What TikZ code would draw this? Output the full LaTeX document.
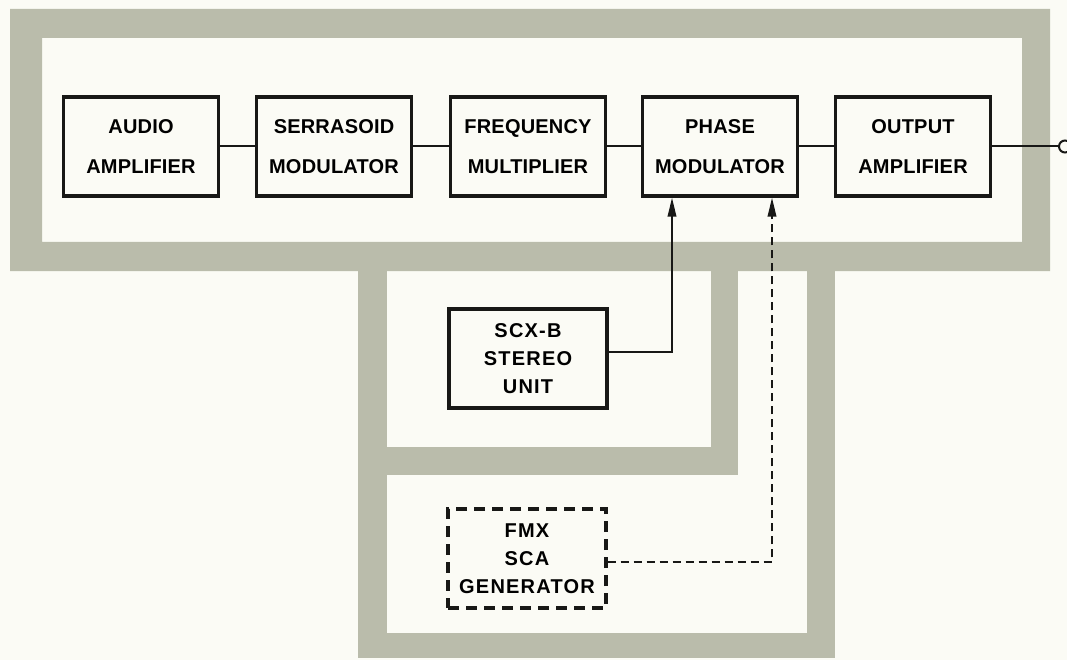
\documentclass[tikz,border=0pt]{standalone}
\usepackage{fontspec}
\setmainfont{Liberation Sans}
\newfontfamily\lblfont[LetterSpace=1.0]{Liberation Sans}
\newfontfamily\lblfontw[LetterSpace=6.0]{Liberation Sans}
\usetikzlibrary{arrows.meta}
\definecolor{band}{RGB}{186,188,171}
\definecolor{paper}{RGB}{251,251,245}
\definecolor{ink}{RGB}{24,24,22}
\tikzset{
  blk/.style={draw=ink, line width=3.3pt, fill=paper, minimum width=155pt,
    minimum height=99pt, inner sep=0pt, align=center,
    font=\lblfont\bfseries\fontsize{20}{40}\selectfont},
  lowblk/.style={blk, minimum width=158pt,
    font=\lblfontw\bfseries\fontsize{20}{28}\selectfont},
  dashblk/.style={lowblk, dash pattern=on 11pt off 7pt},
  wire/.style={draw=ink, line width=2pt},
  sig/.style={wire, -{Triangle[length=19pt,width=8.5pt]}},
  dsig/.style={sig, dash pattern=on 8pt off 5pt},
}
\begin{document}
\begin{tikzpicture}[x=1pt,y=-1pt]
\useasboundingbox (0,0) rectangle (1067,660);
\fill[paper] (0,0) rectangle (1067,660);
% gray bands
\fill[band, even odd rule] (10,9) rectangle (1050,271) (42,38) rectangle (1022,242);
\fill[band] (358,268) rectangle (387,658);
\fill[band] (358,633) rectangle (835,658);
\fill[band] (807,268) rectangle (835,658);
\fill[band] (711,268) rectangle (738,475);
\fill[band] (385,447) rectangle (738,475);
% blocks
\node[blk] (audio)  at (141,146.5) {AUDIO\\AMPLIFIER};
\node[blk] (serr)   at (334,146.5) {SERRASOID\\MODULATOR};
\node[blk] (freq)   at (528,146.5) {FREQUENCY\\MULTIPLIER};
\node[blk] (phase)  at (720,146.5) {PHASE\\MODULATOR};
\node[blk] (outamp) at (913,146.5) {OUTPUT\\AMPLIFIER};
\node[lowblk] (scx) at (528,358.5) {SCX-B\\STEREO\\UNIT};
\node[dashblk] (fmx) at (527,558.5) {FMX\\SCA\\GENERATOR};
\node[circle, draw=ink, line width=2pt, fill=paper, minimum size=12pt, inner sep=0pt] (term) at (1065,146.5) {};
% connectors
\draw[wire] (audio) -- (serr);
\draw[wire] (serr) -- (freq);
\draw[wire] (freq) -- (phase);
\draw[wire] (phase) -- (outamp);
\draw[wire] (outamp.east) -- (term.west);
\draw[sig] ([yshift=6.5pt]scx.east) -| ([xshift=-48pt]phase.south);
\draw[dsig] ([yshift=-3.5pt]fmx.east) -| ([xshift=52pt]phase.south);
\end{tikzpicture}
\end{document}
